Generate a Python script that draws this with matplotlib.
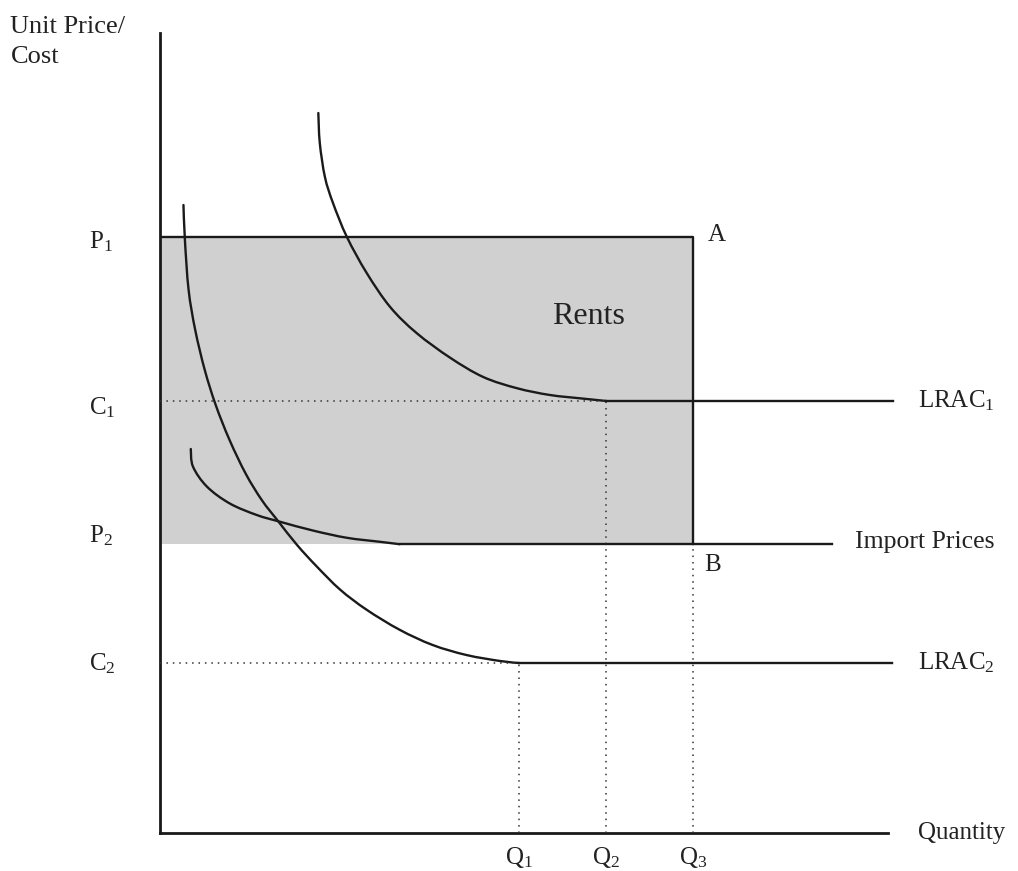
import matplotlib
matplotlib.use("Agg")
import matplotlib.pyplot as plt
from matplotlib.patches import Rectangle, PathPatch
from matplotlib.path import Path

plt.rcParams['font.family'] = ['Liberation Serif', 'DejaVu Serif']
plt.rcParams['mathtext.default'] = 'regular'

# key price / quantity levels (axis units 0-100)
P1, C1, P2, C2 = 74.5, 54.0, 36.1, 21.25
Q1, Q2, Q3 = 49.0, 60.9, 72.7

# long-run average cost curves
lrac1_q = [21.6, 21.8, 22.5, 23.6, 25.5, 28.2, 31.4, 35.0, 39.6, 44.1, 48.7, 53.2, 57.7, 60.9]
lrac1_c = [90.0, 86.25, 82.0, 78.75, 74.5, 70.0, 65.75, 62.5, 59.4, 57.0, 55.6, 54.75, 54.3, 54.0]
lrac1_end = 100.0

lrac2_q = [3.2, 3.4, 3.9, 4.8, 6.1, 7.6, 9.5, 11.7, 13.9, 16.1, 18.7, 21.4, 24.6,
           28.2, 32.7, 37.2, 41.8, 46.4, 49.0]
lrac2_c = [78.5, 74.1, 67.9, 62.9, 57.9, 53.5, 49.1, 44.9, 41.6, 39.0, 36.0, 33.3, 30.4,
           27.9, 25.4, 23.5, 22.25, 21.5, 21.25]
lrac2_end = 99.9

imp_q = [4.2, 4.5, 6.4, 9.5, 13.2, 16.4, 20.9, 25.5, 30.0, 32.7]
imp_c = [48.0, 45.8, 43.3, 41.2, 39.75, 38.9, 37.8, 36.9, 36.4, 36.1]
import_end = 91.7


def smooth_path(xs, ys):
    # Catmull-Rom through the read points, drawn as cubic Bezier segments
    pts = list(zip(xs, ys))
    verts = [pts[0]]
    codes = [Path.MOVETO]
    for i in range(len(pts) - 1):
        p0 = pts[i - 1] if i > 0 else pts[i]
        p1, p2 = pts[i], pts[i + 1]
        p3 = pts[i + 2] if i + 2 < len(pts) else p2
        c1 = (p1[0] + (p2[0] - p0[0]) / 6, p1[1] + (p2[1] - p0[1]) / 6)
        c2 = (p2[0] - (p3[0] - p1[0]) / 6, p2[1] - (p3[1] - p1[1]) / 6)
        verts += [c1, c2, p2]
        codes += [Path.CURVE4] * 3
    return Path(verts, codes)


fig = plt.figure(figsize=(10.18, 8.71), dpi=100)
ax = fig.add_axes([160 / 1018, 38 / 871, 733 / 1018, 800 / 871])
ax.set_xlim(0, 100)
ax.set_ylim(0, 100)
ax.axis('off')

ink = '#1a1a1a'
lw = 1.7
dot = dict(color='#333333', linestyle=(0, (1, 3.2)), linewidth=1.1)

# rents area
ax.add_patch(Rectangle((0, P2), Q3, P1 - P2, facecolor='#d0d0d0', edgecolor='none', zorder=0))
ax.plot([0, Q3, Q3], [P1, P1, P2], color=ink, lw=lw)

# axes
ax.plot([0, 0], [0, 100], color=ink, lw=lw + 0.3, clip_on=False)
ax.plot([0, 99.3], [0, 0], color=ink, lw=lw + 0.3, clip_on=False)

# dotted guides
ax.plot([0, Q2], [C1, C1], **dot)
ax.plot([Q2, Q2], [0, C1], **dot)
ax.plot([0, Q1], [C2, C2], **dot)
ax.plot([Q1, Q1], [0, C2], **dot)
ax.plot([Q3, Q3], [0, P2], **dot)

# curves
for qs, cs, end in [(lrac1_q, lrac1_c, lrac1_end),
                    (lrac2_q, lrac2_c, lrac2_end),
                    (imp_q, imp_c, import_end)]:
    ax.add_patch(PathPatch(smooth_path(qs, cs), facecolor='none', edgecolor=ink,
                           lw=lw, capstyle='round', clip_on=False))
    ax.plot([qs[-1], end], [cs[-1], cs[-1]], color=ink, lw=lw, clip_on=False)

fs = 18
kw = dict(fontsize=fs, color='#222222', clip_on=False)
ax.text(-20.4, 102.1, 'Unit Price/\nCost', ha='left', va='top', linespacing=1.45,
        fontsize=19, color='#222222', clip_on=False)
ax.text(-9.7, P1 - 0.6, r'P$_1$', ha='left', va='center', **kw)
ax.text(-9.7, C1 - 0.9, r'C$_1$', ha='left', va='center', **kw)
ax.text(-9.7, P2 + 1.1, r'P$_2$', ha='left', va='center', **kw)
ax.text(-9.7, C2 - 0.1, r'C$_2$', ha='left', va='center', **kw)
ax.text(Q3 + 2.0, P1 + 0.2, 'A', ha='left', va='center', **kw)
ax.text(Q3 + 1.6, P2 - 2.65, 'B', ha='left', va='center', **kw)
ax.text(58.4, 64.5, 'Rents', ha='center', va='center', fontsize=23, color='#222222')
ax.text(103.4, C1, r'LRAC$_1$', ha='left', va='center', **kw)
ax.text(94.8, P2 + 0.3, 'Import Prices', ha='left', va='center', fontsize=18.5,
        color='#222222', clip_on=False)
ax.text(103.4, C2, r'LRAC$_2$', ha='left', va='center', **kw)
ax.text(103.4, 0, 'Quantity', ha='left', va='center', **kw)
for q, lab in zip([Q1, Q2, Q3], [r'Q$_1$', r'Q$_2$', r'Q$_3$']):
    ax.text(q, -3.0, lab, ha='center', va='center', **kw)

fig.savefig('out.png', dpi=100)
